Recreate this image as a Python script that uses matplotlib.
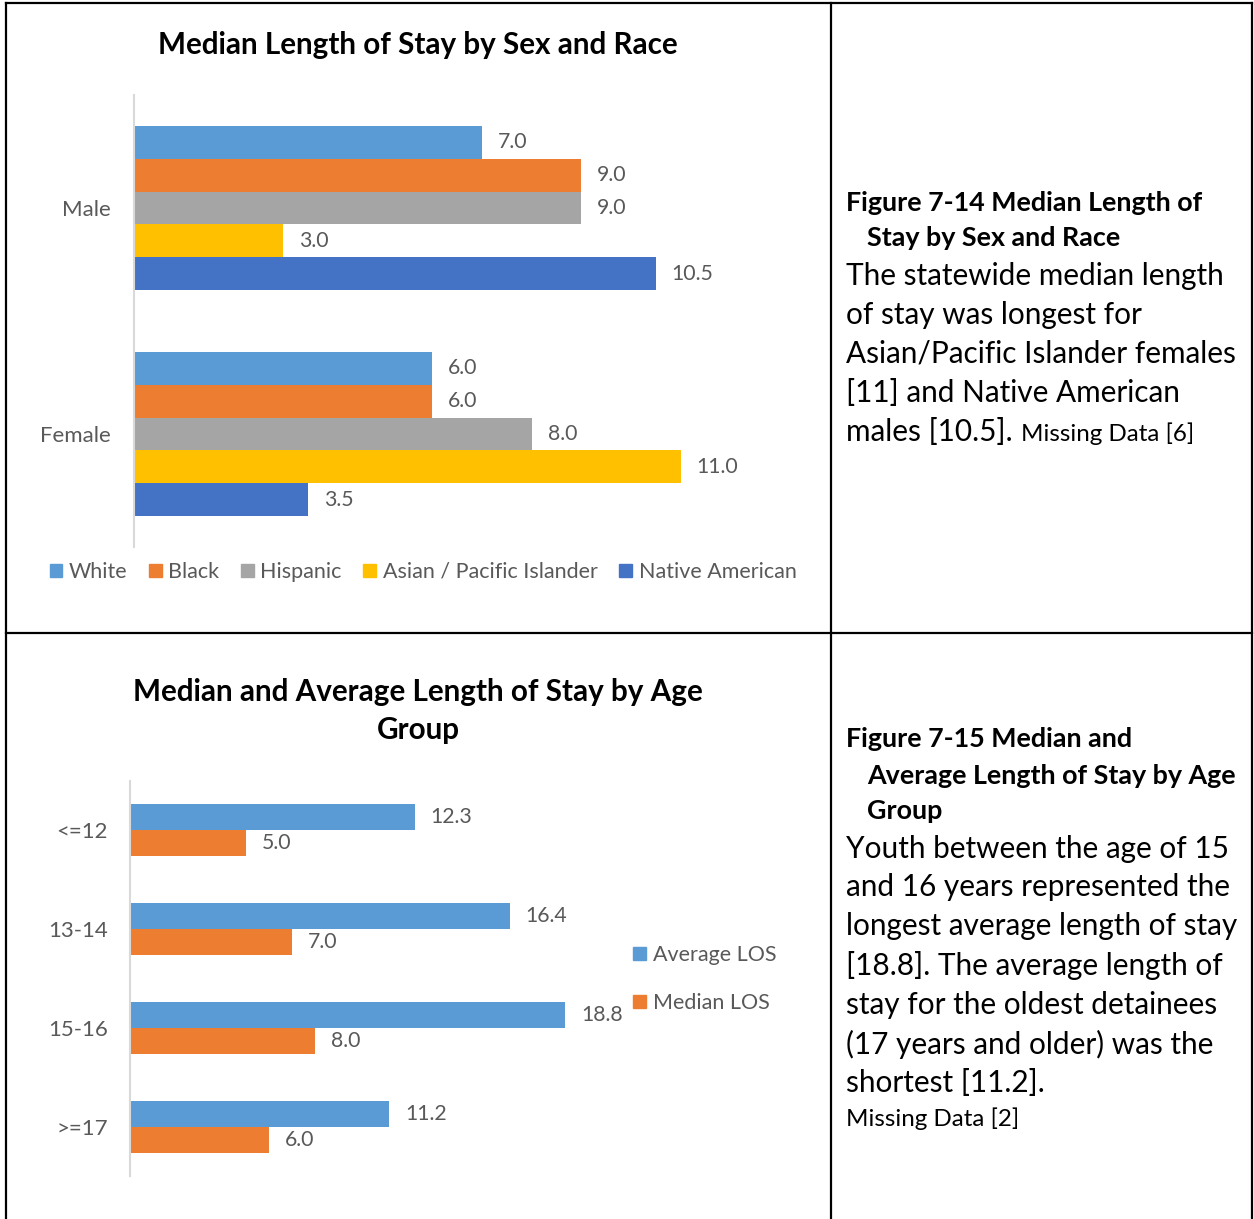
import matplotlib.pyplot as plt
from matplotlib.lines import Line2D
from matplotlib.patches import Patch

plt.rcParams['font.family'] = ['Lato', 'DejaVu Sans']

# ---- data ----
sexes = ['Male', 'Female']
races = ['White', 'Black', 'Hispanic', 'Asian / Pacific Islander', 'Native American']
male_los = [7.0, 9.0, 9.0, 3.0, 10.5]
female_los = [6.0, 6.0, 8.0, 11.0, 3.5]

age_groups = ['<=12', '13-14', '15-16', '>=17']
average_los = [12.3, 16.4, 18.8, 11.2]
median_los = [5.0, 7.0, 8.0, 6.0]

race_colors = ['#5B9BD5', '#ED7D31', '#A5A5A5', '#FFC000', '#4472C4']
grey_txt = '#595959'
axis_grey = '#D9D9D9'

W, H = 1254, 1219
fig = plt.figure(figsize=(W / 100, H / 100), dpi=100)

val_fs, tick_fs, leg_fs, title_fs = 15.3, 16, 15.5, 21.3


def fx(px):
    return px / W


def fy(py):
    return 1 - py / H


def style_axis(ax, pad):
    for s in ['top', 'right', 'bottom']:
        ax.spines[s].set_visible(False)
    ax.spines['left'].set_color(axis_grey)
    ax.spines['left'].set_linewidth(1.5)
    ax.set_xticks([])
    ax.tick_params(axis='y', length=0, pad=pad, labelsize=tick_fs,
                   labelcolor=grey_txt)


# ==========================================
# Chart 1: median LOS by sex and race
# ==========================================
ax1 = fig.add_axes([fx(134), fy(547), fx(780) - fx(134), fy(95) - fy(547)])
h1 = 0.146
sex_vals = [male_los, female_los]
for i, sex in enumerate(sexes):
    base = len(sexes) - 1 - i
    for j, race in enumerate(races):
        y = base + (2 - j) * h1
        v = sex_vals[i][j]
        ax1.barh(y, v, height=h1, color=race_colors[j])
        ax1.annotate(f'{v:.1f}', (v, y), xytext=(11.5, 0),
                     textcoords='offset points', va='center', ha='left',
                     fontsize=val_fs, color=grey_txt)
ax1.set_xlim(0, 13)
ax1.set_ylim(-0.5, 1.5)
ax1.set_yticks([1, 0])
ax1.set_yticklabels(sexes)
style_axis(ax1, 17)

fig.text(fx(418), fy(45), 'Median Length of Stay by Sex and Race',
         ha='center', va='center', fontsize=title_fs, fontweight='bold')

handles1 = [Patch(color=c, label=r) for c, r in zip(race_colors, races)]
fig.legend(handles=handles1, loc='center', ncol=5, frameon=False,
           bbox_to_anchor=(fx(423), fy(572)), fontsize=leg_fs,
           labelcolor=grey_txt, handlelength=0.6, handleheight=0.6,
           handletextpad=0.3, columnspacing=1.0)

# ==========================================
# Chart 2: median and average LOS by age group
# ==========================================
ax2 = fig.add_axes([fx(130), fy(1176), fx(616) - fx(130), fy(781) - fy(1176)])
h2 = 0.263
n = len(age_groups)
for k, grp in enumerate(age_groups):
    base = n - 1 - k
    ya, ym = base + h2 / 2, base - h2 / 2
    ax2.barh(ya, average_los[k], height=h2, color=race_colors[0])
    ax2.barh(ym, median_los[k], height=h2, color=race_colors[1])
    for v, y in [(average_los[k], ya), (median_los[k], ym)]:
        ax2.annotate(f'{v:.1f}', (v, y), xytext=(11.5, 0),
                     textcoords='offset points', va='center', ha='left',
                     fontsize=val_fs, color=grey_txt)
ax2.set_xlim(0, 21)
ax2.set_ylim(-0.5, n - 0.5)
ax2.set_yticks(list(range(n - 1, -1, -1)))
ax2.set_yticklabels(age_groups)
style_axis(ax2, 16)

fig.text(fx(418), fy(711), 'Median and Average Length of Stay by Age\nGroup',
         ha='center', va='center', fontsize=title_fs, fontweight='bold',
         linespacing=1.42)

handles2 = [Patch(color=race_colors[0], label='Average LOS'),
            Patch(color=race_colors[1], label='Median LOS')]
fig.legend(handles=handles2, loc='center left', frameon=False,
           bbox_to_anchor=(fx(614), fy(979)), fontsize=leg_fs,
           labelcolor=grey_txt, handlelength=0.6, handleheight=0.6,
           handletextpad=0.3, labelspacing=1.3)

# ==========================================
# Right-hand text cells
# ==========================================
x0, x_ind = fx(846), fx(867)
head_fs, body_fs, small_fs = 19.4, 21.4, 17.4

fig.text(x0, fy(203), 'Figure 7-14 Median Length of', fontsize=head_fs,
         fontweight='bold', va='center')
fig.text(x_ind, fy(238), 'Stay by Sex and Race', fontsize=head_fs,
         fontweight='bold', va='center')
body1 = ['The statewide median length', 'of stay was longest for',
         'Asian/Pacific Islander females', '[11] and Native American',
         'males [10.5].']
body1_y = [276, 315, 354, 393, 432]
last = None
for line, y in zip(body1, body1_y):
    last = fig.text(x0, fy(y), line, fontsize=body_fs, va='center')
fig.canvas.draw()
bb = last.get_window_extent(fig.canvas.get_renderer())
fig.text(bb.x1 / W + fx(8), fy(434), 'Missing Data [6]', fontsize=small_fs,
         va='center')

head2 = [('Figure 7-15 Median and', x0, 739),
         ('Average Length of Stay by Age', x_ind, 776),
         ('Group', x_ind, 811)]
for line, x, y in head2:
    fig.text(x, fy(y), line, fontsize=head_fs, fontweight='bold', va='center')
body2 = ['Youth between the age of 15', 'and 16 years represented the',
         'longest average length of stay', '[18.8]. The average length of',
         'stay for the oldest detainees', '(17 years and older) was the',
         'shortest [11.2].']
body2_y = [849, 887, 926, 966, 1005, 1044, 1083]
for line, y in zip(body2, body2_y):
    fig.text(x0, fy(y), line, fontsize=body_fs, va='center')
fig.text(x0, fy(1119), 'Missing Data [2]', fontsize=small_fs, va='center')

# ==========================================
# Table borders
# ==========================================
border = dict(color='black', linewidth=1.6, transform=fig.transFigure)
fig.add_artist(Line2D([fx(6), fx(1252)], [fy(3), fy(3)], **border))
fig.add_artist(Line2D([fx(6), fx(1252)], [fy(633), fy(633)], **border))
for px in [6, 831, 1252]:
    fig.add_artist(Line2D([fx(px), fx(px)], [fy(3), 0], **border))

fig.savefig('out.png', dpi=100)
